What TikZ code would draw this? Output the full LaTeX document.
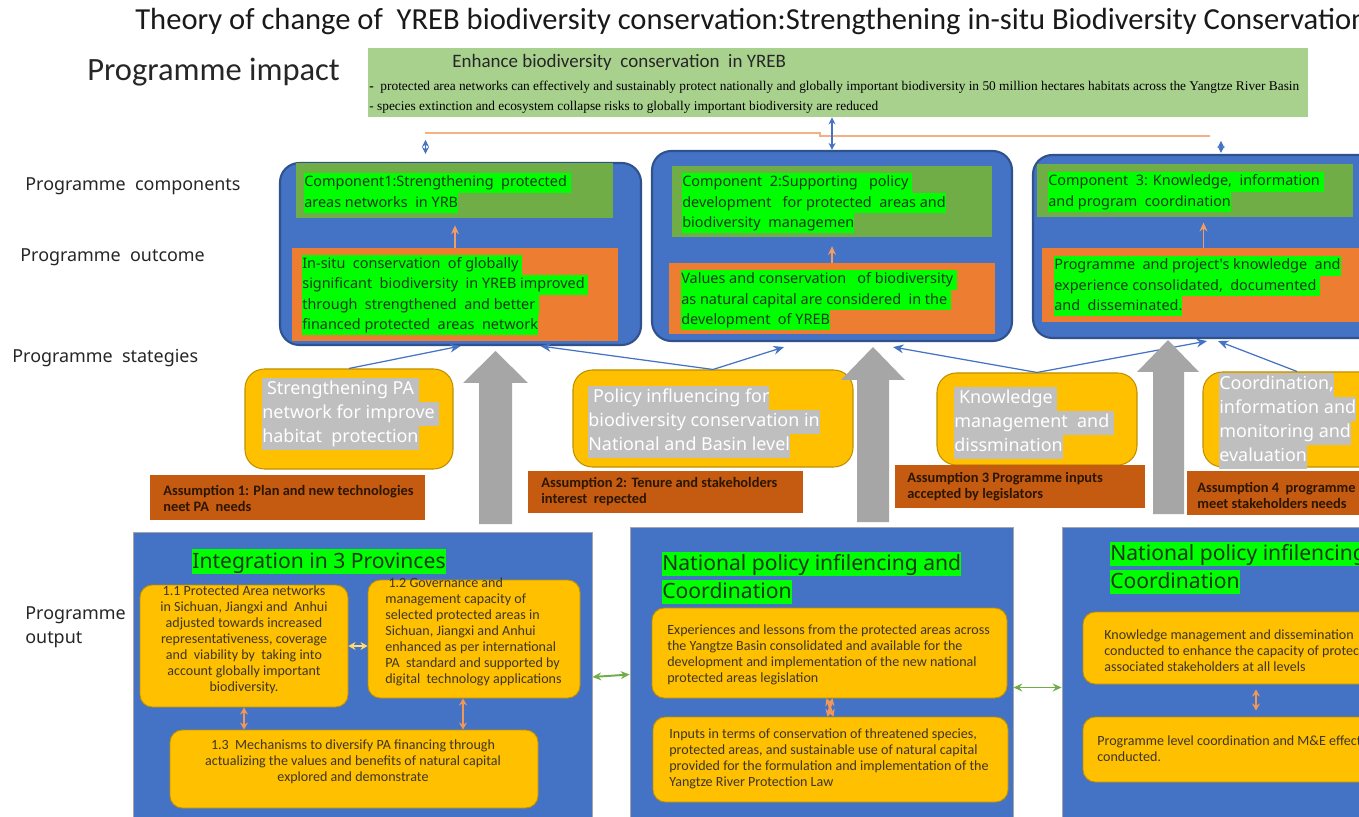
\documentclass[tikz,border=0pt]{standalone}
\usepackage{fontspec}
\setmainfont{Carlito}
\newfontfamily\yhfont{Noto Sans}
\newfontfamily\tmfont{Liberation Serif}
\usetikzlibrary{fit,arrows.meta}

\definecolor{pblue}{HTML}{4472C4}
\definecolor{pbluedark}{HTML}{2F528F}
\definecolor{pgreen}{HTML}{70AD47}
\definecolor{impgreen}{HTML}{A9D18E}
\definecolor{porange}{HTML}{ED7D31}
\definecolor{pgold}{HTML}{FFC000}
\definecolor{pgolddark}{HTML}{BF9000}
\definecolor{pbrown}{HTML}{C55A11}
\definecolor{hlgreen}{HTML}{00FF00}
\definecolor{hlgray}{HTML}{BFBFBF}
\definecolor{pgray}{HTML}{A6A6A6}
\definecolor{lineorange}{HTML}{F4B183}
\definecolor{textgreen}{HTML}{163A16}
\definecolor{asstextcol}{HTML}{2B1600}
\definecolor{subtextcol}{HTML}{3E3626}

\setlength{\fboxsep}{0pt}
\newcommand{\hlg}[1]{\colorbox{hlgreen}{\strut#1}}
\newcommand{\hlgr}[1]{\colorbox{hlgray}{\strut\textcolor{white}{#1}}}
\newcommand{\hlhead}[1]{\colorbox{hlgreen}{\rule[-0.28em]{0pt}{1.18em}#1}}

\begin{document}
\begin{tikzpicture}[x=0.02cm, y=-0.02cm,
	grpbox/.style={fill=pblue, draw=pbluedark, line width=1.2pt, rounded corners=11pt, inner sep=0pt},
	compbox/.style={fill=pgreen, inner sep=0pt},
	outbox/.style={fill=porange, inner sep=0pt},
	hltext/.style={font=\yhfont\fontsize{8.2}{11.4}\selectfont, text=textgreen, align=left, inner sep=0pt, anchor=west},
	stratbox/.style={fill=pgold, draw=pgolddark, line width=0.6pt, rounded corners=11pt, inner sep=0pt},
	strattext/.style={font=\yhfont\fontsize{10.2}{13.7}\selectfont, align=left, inner sep=0pt, anchor=west},
	assbox/.style={fill=pbrown, inner sep=0pt},
	asstext/.style={font=\bfseries\fontsize{8.2}{9.1}\selectfont, text=asstextcol, align=left, inner sep=0pt, anchor=west},
	opbox/.style={fill=pblue, draw=gray!70, line width=0.5pt, inner sep=0pt},
	subbox/.style={fill=pgold, draw=pgolddark, line width=0.5pt, rounded corners=7pt, inner sep=0pt},
	subtext/.style={font=\fontsize{8}{9.1}\selectfont, text=subtextcol, inner sep=0pt},
	headtext/.style={font=\yhfont\fontsize{12}{16}\selectfont, text=textgreen, align=left, inner sep=0pt, anchor=west},
	lbltext/.style={font=\yhfont\fontsize{10.2}{13.5}\selectfont, text=black!85, align=left, inner sep=0pt, anchor=west},
	stratarr/.style={-{Stealth[length=6pt,width=5pt]}, draw=pblue, line width=0.7pt},
	bluedarr/.style={{Stealth[length=4pt,width=4pt]}-{Stealth[length=4pt,width=4pt]}, draw=pblue, line width=0.9pt},
	outarr/.style={-{Stealth[length=5pt,width=4.5pt]}, draw=porange!75!white, line width=1pt},
	vdarr/.style={{Stealth[length=4pt,width=4.5pt]}-{Stealth[length=4pt,width=4.5pt]}, draw=porange!80!white, line width=1.3pt},
	greenarr/.style={{Stealth[length=5pt,width=4.5pt]}-{Stealth[length=5pt,width=4.5pt]}, draw=pgreen, line width=1.1pt},
	bigarr/.style={fill=pgray}]

	\clip (0,0) rectangle (1359,817);
	\fill[white] (0,0) rectangle (1359,817);

	% title and impact
	\node[font=\fontsize{17.4}{20}\selectfont, text=black!90, inner sep=0pt, anchor=west] (title) at (135,22)
		{Theory of change of\ \ YREB biodiversity conservation:Strengthening in-situ Biodiversity Conservation};
	\node[font=\fontsize{18.5}{22}\selectfont, text=black!85, inner sep=0pt, anchor=west] (lblimpact) at (87,72) {Programme impact};
	\node[fill=impgreen, inner sep=0pt, fit={(368,48) (1308,117)}] (impact) {};
	\node[font=\fontsize{10.8}{12}\selectfont, text=black!85, inner sep=0pt, anchor=west] (impacthead) at (452,62)
		{Enhance biodiversity\ \ conservation\ \ in YREB};
	\node[font=\tmfont\fontsize{7.6}{8.5}\selectfont, inner sep=0pt, anchor=west] (impact1) at (369,87)
		{\textbf{-}\ \ protected area networks can effectively and sustainably protect nationally and globally important biodiversity in 50 million hectares habitats across the Yangtze River Basin};
	\node[font=\tmfont\fontsize{7.6}{8.5}\selectfont, inner sep=0pt, anchor=west] (impact2) at (369,107)
		{- species extinction and ecosystem collapse risks to globally important biodiversity are reduced};

	% row labels
	\node[lbltext] (lblcomp) at (25,186) {Programme\ \ components};
	\node[lbltext] (lbloutc) at (20,257) {Programme\ \ outcome};
	\node[lbltext] (lblstrat) at (12,358) {Programme\ \ stategies};
	\node[lbltext] (lbloutp) at (25,627) {Programme\\output};

	% components and outcomes
	\node[grpbox, fit={(280,163) (641,345)}] (grp1) {};
	\node[grpbox, fit={(652,151) (1012,341)}] (grp2) {};
	\node[grpbox, fit={(1033,155) (1385,338)}] (grp3) {};
	\node[compbox, fit={(296,163) (613,218)}] (comp1) {};
	\node[compbox, fit={(672,166) (992,237)}] (comp2) {};
	\node[compbox, fit={(1037,164) (1353,217)}] (comp3) {};
	\node[outbox, fit={(292,248) (618,341)}] (out1) {};
	\node[outbox, fit={(669,263) (995,334)}] (out2) {};
	\node[outbox, fit={(1042,248) (1385,322)}] (out3) {};

	\node[hltext] (comp1txt) at (304,193) {\hlg{Component1:Strengthening\ \ protected\ }\\\hlg{areas networks\ \ in YRB}};
	\node[hltext] (comp2txt) at (682,203) {\hlg{Component\ \ 2:Supporting\ \ \ policy\ }\\\hlg{development\ \ \ for protected\ \ areas and}\\\hlg{biodiversity\ \ managemen}};
	\node[hltext] (comp3txt) at (1048,192) {\hlg{Component\ \ 3: Knowledge,\ \ information\ }\\\hlg{and program\ \ coordination}};
	\node[hltext] (out1txt) at (302,295) {\hlg{In-situ\ \ conservation\ \ of globally\ }\\\hlg{significant\ \ biodiversity\ \ in YREB improved\ }\\\hlg{through\ \ strengthened\ \ and better\ }\\\hlg{financed protected\ \ areas\ \ network}};
	\node[hltext] (out2txt) at (681,300) {\hlg{Values and conservation\ \ \ of biodiversity\ }\\\hlg{as natural capital are considered\ \ in the\ }\\\hlg{development\ \ of YREB}};
	\node[hltext] (out3txt) at (1054,286) {\hlg{Programme\ \ and project's knowledge\ \ and}\\\hlg{experience consolidated,\ \ documented\ }\\\hlg{and\ \ disseminated.}};

	\draw[outarr, shorten >=4pt] (out1.north) -- (out1.north |- comp1.south);
	\draw[outarr, shorten >=5pt] (out2.north) -- (out2.north |- comp2.south);
	\coordinate (out3top) at ([shift={(-10,0)}]out3.north);
	\draw[outarr, shorten >=3pt] (out3top) -- (out3top |- comp3.south);

	% links to impact
	\draw[lineorange, line width=0.8pt] (425,133) -- (820,133) -- (820,136) -- (1210,136);
	\draw[bluedarr] (impact.south -| grp2.north) -- (grp2.north);
	\draw[bluedarr, line width=0.6pt] ([shift={(-35,-8)}]grp1.north) -- ([shift={(-35,-22)}]grp1.north);
	\draw[bluedarr, line width=0.6pt] ([shift={(12,-1)}]grp3.north) -- ([shift={(12,-13)}]grp3.north);

	% strategies
	\node[stratbox, fit={(245,369) (453,469)}] (strat1) {};
	\node[stratbox, fit={(573,370) (853,467)}] (strat2) {};
	\node[stratbox, fit={(937,373) (1137,465)}] (strat3) {};
	\node[stratbox, fit={(1203,372) (1391,467)}] (strat4) {};
	\node[strattext] (strat1txt) at (262,414) {\hlgr{\ Strengthening PA\ }\\\hlgr{network for improve\ }\\\hlgr{habitat\ \ protection}};
	\node[strattext] (strat2txt) at (588,422) {\hlgr{\ Policy influencing for}\\\hlgr{biodiversity conservation in}\\\hlgr{National and Basin level}};
	\node[strattext] (strat3txt) at (954,423) {\hlgr{\ Knowledge\ }\\\hlgr{management\ \ and\ }\\\hlgr{dissmination}};
	\node[strattext] (strat4txt) at (1219,421) {\hlgr{Coordination,}\\\hlgr{information and}\\\hlgr{monitoring and}\\\hlgr{evaluation}};

	\draw[stratarr] (strat1.north) -- (grp1.south);
	\draw[stratarr] (strat2.north) -- ([shift={(80,0)}]grp1.south);
	\draw[stratarr] (strat2.north) -- ([shift={(-48,5)}]grp2.south);
	\draw[stratarr] (strat3.north) -- ([shift={(61,5)}]grp2.south);
	\draw[stratarr] (strat3.north) -- ([shift={(-2,2)}]grp3.south);
	\draw[stratarr] (strat4.north) -- ([shift={(9,2)}]grp3.south);

	% assumptions
	\node[assbox, fit={(150,475) (425,520)}] (ass1) {};
	\node[assbox, fit={(528,471) (803,513)}] (ass2) {};
	\node[assbox, fit={(895,465) (1145,508)}] (ass3) {};
	\node[assbox, fit={(1187,471) (1385,515)}] (ass4) {};
	\node[asstext] (ass1txt) at (163,498) {Assumption 1: Plan and new technologies\\neet PA\ \ needs};
	\node[asstext] (ass2txt) at (541,492) {Assumption 2: Tenure and stakeholders\\interest\ \ repected};
	\node[asstext] (ass3txt) at (907,487) {Assumption 3 Programme inputs\\accepted by legislators};
	\node[asstext] (ass4txt) at (1197,495) {Assumption 4\ \ programme\\meet stakeholders needs};

	% block arrows
	\fill[bigarr] (479,524) -- (479,383) -- (463,383) -- (495.5,351) -- (528,383) -- (512,383) -- (512,524) -- cycle;
	\fill[bigarr] (857,522) -- (857,380) -- (841,380) -- (873,347) -- (905,380) -- (889,380) -- (889,522) -- cycle;
	\fill[bigarr] (1153,514) -- (1153,372) -- (1137,372) -- (1168,340) -- (1199,372) -- (1184,372) -- (1184,514) -- cycle;

	% outputs
	\node[opbox, fit={(133,532) (592,822)}] (op1) {};
	\node[opbox, fit={(630,527) (1013,822)}] (op2) {};
	\node[opbox, fit={(1062,527) (1390,822)}] (op3) {};
	\node[headtext] (op1head) at (192,561.5) {\hlhead{Integration in 3 Provinces}};
	\node[headtext] (op2head) at (662,578) {\hlhead{National policy infilencing and}\\\hlhead{Coordination}};
	\node[headtext] (op3head) at (1110,568) {\hlhead{National policy infilencing}\\\hlhead{Coordination}};

	\node[subbox, fit={(140,585) (348,707)}] (s11) {};
	\node[subbox, fit={(368,580) (580,698)}] (s12) {};
	\node[subbox, fit={(170,730) (538,808)}] (s13) {};
	\node[subtext, align=center] (s11txt) at (244,640) {1.1 Protected Area networks\\in Sichuan, Jiangxi and\ \ Anhui\\adjusted towards increased\\representativeness, coverage\\and\ \ viability by\ \ taking into\\account globally important\\biodiversity.};
	\node[subtext, align=left, anchor=west] (s12txt) at (385,631.5) {\ 1.2 Governance and\\management capacity of\\selected protected areas in\\Sichuan, Jiangxi and Anhui\\enhanced as per international\\PA\ \ standard and supported by\\digital\ \ technology applications};
	\node[subtext, align=center] (s13txt) at (353,762) {1.3\ \ Mechanisms to diversify PA financing through\\actualizing the values and benefits of natural capital\\explored and demonstrate};

	\draw[vdarr, draw=pgold!55!white, line width=1pt] (s11.east) -- (s12.west |- s11.east);
	\draw[vdarr] (s11.south) -- (s11.south |- s13.north);
	\coordinate (s12bot) at ([shift={(-11,0)}]s12.south);
	\draw[vdarr] (s12bot) -- (s12bot |- s13.north);

	\node[subbox, fit={(652,608) (1007,698)}] (s21) {};
	\node[subbox, fit={(653,717) (1008,802)}] (s22) {};
	\node[subtext, align=left, anchor=west] (s21txt) at (667,654.5) {Experiences and lessons from the protected areas across\\the Yangtze Basin consolidated and available for the\\development and implementation of the new national\\protected areas legislation};
	\node[subtext, align=left, anchor=west] (s22txt) at (669,758.5) {Inputs in terms of conservation of threatened species,\\protected areas, and sustainable use of natural capital\\provided for the formulation and implementation of the\\Yangtze River Protection Law};
	\draw[vdarr] ([shift={(-3,0)}]s21.south) -- ([shift={(3,0)}]s22.north);
	\draw[vdarr] ([shift={(3,0)}]s21.south) -- ([shift={(-3,0)}]s22.north);

	\node[subbox, fit={(1083,612) (1395,684)}] (s31) {};
	\node[subbox, fit={(1083,717) (1395,782)}] (s32) {};
	\node[subtext, align=left, anchor=west] (s31txt) at (1104,651) {Knowledge management and dissemination\\conducted to enhance the capacity of protected\\associated stakeholders at all levels};
	\node[subtext, align=left, anchor=west] (s32txt) at (1097,749) {Programme level coordination and M\&E effectively\\conducted.};
	\coordinate (s31bot) at ([shift={(1256,0)}]0,0 |- s31.south);
	\draw[vdarr] ([shift={(0,5)}]s31bot) -- ([shift={(0,-6)}]s31bot |- s32.north);

	\draw[greenarr] (op1.east) -- (op2.west);
	\draw[greenarr] ([shift={(0,13)}]op2.east) -- ([shift={(0,13)}]op3.west);
\end{tikzpicture}
\end{document}
